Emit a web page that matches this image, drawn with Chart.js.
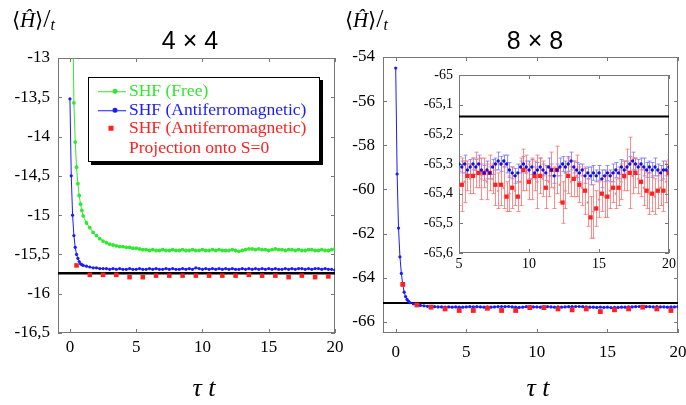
<!DOCTYPE html>
<html lang="en">
<head>
<meta charset="UTF-8">
<title>SHF energy vs imaginary time</title>
<script src="https://cdn.jsdelivr.net/npm/chart.js"></script>
<style>
  body { margin:0; width:686px; height:405px; overflow:hidden; background:#fff; position:relative; font-family:"Liberation Serif", serif; }
  canvas { position:absolute; }
  #c1 { left:0; top:0; }
  #c2 { left:336px; top:0; }
  #c3 { left:400px; top:60px; }
  .txt { position:absolute; white-space:nowrap; color:#000; line-height:1; }
  .title { font-family:"Liberation Sans", sans-serif; font-size:25px; transform:translate(-50%,-50%); }
  .xlab { font-family:"Liberation Serif", serif; font-size:26px; font-style:italic; transform:translate(-50%,-50%); }
  .ylab { font-size:21px; }
  .ylab .sl { font-size:26px; }
  .ylab .t { font-size:16px; font-style:italic; position:relative; top:3px; }
  #legend { position:absolute; left:88px; top:77px; width:232px; height:85px; box-sizing:border-box;
            border:1px solid #000; box-shadow:3px 3px 0 #000; background:#fff; font-size:17.5px; }
  .lrow { position:absolute; left:40px; transform:translateY(-50%); white-space:nowrap; line-height:1; }
  .lline { position:absolute; left:-31px; top:50%; width:28px; height:1px; }
  .ldot { position:absolute; left:-14px; top:50%; width:5px; height:5px; border-radius:50%; transform:translate(-50%,-50%); }
  .lsq { position:absolute; left:-18px; top:50%; width:5px; height:5px; transform:translate(-50%,-50%); }
</style>
</head>
<body>
  <canvas id="c1" width="350" height="405"></canvas>
  <canvas id="c2" width="360" height="405"></canvas>
  <canvas id="c3" width="280" height="220"></canvas>

  <div class="txt ylab" style="left:12px;top:6px">⟨<i>Ĥ</i>⟩<span class="sl">/</span><span class="t">t</span></div>
  <div class="txt ylab" style="left:345px;top:6px">⟨<i>Ĥ</i>⟩<span class="sl">/</span><span class="t">t</span></div>
  <div class="txt title" style="left:190px;top:40px">4 × 4</div>
  <div class="txt title" style="left:535px;top:40px">8 × 8</div>
  <div class="txt xlab" style="left:204px;top:388px">τ t</div>
  <div class="txt xlab" style="left:538px;top:388px">τ t</div>

  <div id="legend">
    <div class="lrow" style="top:13px;color:#30e830"><span class="lline" style="background:#30e830"></span><span class="ldot" style="background:#30e830"></span>SHF (Free)</div>
    <div class="lrow" style="top:32px;color:#1a1aff"><span class="lline" style="background:#1a1aff"></span><span class="ldot" style="background:#1a1aff"></span>SHF (Antiferromagnetic)</div>
    <div class="lrow" style="top:50px;color:#ff2020"><span class="lsq" style="background:#ff2020"></span>SHF (Antiferromagnetic)</div>
    <div class="lrow" style="top:70px;color:#ff2020">Projection onto S=0</div>
  </div>

<script>
// imaginary time grid (tau * t) used by the dense curves
const tau = [0,0.1,0.2,0.3,0.4,0.5,0.6,0.7,0.8,0.9,1,
  1.25,1.5,1.75,2, 2.25,2.5,2.75,3, 3.25,3.5,3.75,4, 4.25,4.5,4.75,5,
  5.25,5.5,5.75,6, 6.25,6.5,6.75,7, 7.25,7.5,7.75,8, 8.25,8.5,8.75,9,
  9.25,9.5,9.75,10, 10.25,10.5,10.75,11, 11.25,11.5,11.75,12, 12.25,12.5,12.75,13,
  13.25,13.5,13.75,14, 14.25,14.5,14.75,15, 15.25,15.5,15.75,16, 16.25,16.5,16.75,17,
  17.25,17.5,17.75,18, 18.25,18.5,18.75,19, 19.25,19.5,19.75,20];

// 4x4 lattice
const free4 = [null,null,-12.3,-13.57,-14.07,-14.39,-14.6,-14.75,-14.86,-14.94,-15.01,
  -15.1,-15.16,-15.22,-15.26, -15.3,-15.33,-15.35,-15.37, -15.38,-15.39,-15.4,-15.4,
  -15.41,-15.41,-15.42,-15.42, -15.43,-15.44,-15.44,-15.45, -15.44,-15.45,-15.45,-15.44,
  -15.45,-15.45,-15.44,-15.45, -15.45,-15.44,-15.45,-15.45, -15.44,-15.45,-15.45,-15.44,
  -15.45,-15.45,-15.44,-15.45, -15.44,-15.45,-15.45,-15.45, -15.44,-15.45,-15.46,-15.45,
  -15.44,-15.43,-15.43,-15.44, -15.43,-15.44,-15.44,-15.45, -15.44,-15.43,-15.44,-15.44,
  -15.45,-15.44,-15.44,-15.45, -15.44,-15.45,-15.45,-15.44, -15.44,-15.45,-15.45,-15.44,
  -15.45,-15.45,-15.44,-15.43];
const afm4 = [-13.52,-14.5,-15.0,-15.26,-15.41,-15.5,-15.55,-15.59,-15.62,-15.63,-15.64,
  -15.65,-15.66,-15.67,-15.67, -15.68,-15.68,-15.68,-15.69, -15.68,-15.69,-15.68,-15.69,
  -15.69,-15.68,-15.69,-15.69, -15.68,-15.69,-15.69,-15.68, -15.69,-15.68,-15.69,-15.69,
  -15.68,-15.69,-15.68,-15.69, -15.69,-15.68,-15.69,-15.68, -15.69,-15.67,-15.68,-15.69,
  -15.68,-15.69,-15.68,-15.69, -15.68,-15.69,-15.68,-15.69, -15.68,-15.69,-15.69,-15.68,
  -15.69,-15.68,-15.69,-15.68, -15.69,-15.68,-15.69,-15.68, -15.69,-15.68,-15.69,-15.69,
  -15.68,-15.69,-15.68,-15.69, -15.68,-15.68,-15.69,-15.68, -15.69,-15.68,-15.68,-15.69,
  -15.68,-15.69,-15.69,-15.7];
const halfTau = [0.5,1.5,2.5,3.5,4.5,5.5,6.5,7.5,8.5,9.5,10.5,11.5,12.5,13.5,14.5,15.5,16.5,17.5,18.5,19.5];
const proj4 = [-15.64,-15.76,-15.76,-15.76,-15.79,-15.79,-15.77,-15.77,-15.77,-15.77,
  -15.77,-15.77,-15.77,-15.76,-15.77,-15.77,-15.79,-15.77,-15.79,-15.78];
const exact4 = -15.74;

// 8x8 lattice
const afm8 = [-54.5,-59.3,-61.75,-63.05,-63.8,-64.3,-64.65,-64.85,-64.98,-65.06,-65.12,
  -65.18,-65.22,-65.25,-65.27, -65.29,-65.3,-65.31,-65.32, -65.32,-65.33,-65.32,-65.33,
  -65.32,-65.33,-65.33,-65.32, -65.31,-65.32,-65.31,-65.32, -65.33,-65.32,-65.33,-65.32,
  -65.31,-65.3,-65.31,-65.3, -65.32,-65.33,-65.34,-65.33, -65.31,-65.31,-65.32,-65.32,
  -65.33,-65.32,-65.31,-65.32, -65.33,-65.32,-65.33,-65.32, -65.31,-65.31,-65.3,-65.3,
  -65.31,-65.32,-65.33,-65.33, -65.34,-65.33,-65.34,-65.33, -65.35,-65.34,-65.34,-65.33,
  -65.33,-65.32,-65.32,-65.31, -65.3,-65.3,-65.31,-65.31, -65.32,-65.31,-65.32,-65.32,
  -65.33,-65.32,-65.32,-65.31];
const proj8 = [-64.3,-65.23,-65.33,-65.41,-65.48,-65.48,-65.38,-65.48,-65.48,-65.35,
  -65.35,-65.41,-65.45,-65.41,-65.53,-65.45,-65.41,-65.33,-65.41,-65.48];
const exact8 = -65.14;

// 8x8 inset (tau t from 5 to 20)
const insetTau = [5,5.2,5.4,5.6,5.8,6,6.2,6.4,6.6,6.8,7,7.2,7.4,7.6,7.8,8,8.2,8.4,8.6,8.8,
  9,9.2,9.4,9.6,9.8,10,10.2,10.4,10.6,10.8,11,11.2,11.4,11.6,11.8,12,12.2,12.4,12.6,12.8,
  13,13.2,13.4,13.6,13.8,14,14.2,14.4,14.6,14.8,15,15.2,15.4,15.6,15.8,16,16.2,16.4,16.6,16.8,
  17,17.2,17.4,17.6,17.8,18,18.2,18.4,18.6,18.8,19,19.2,19.4,19.6,19.8,20];
const insetAfm = [-65.30,-65.31,-65.30,-65.32,-65.31, -65.30,-65.31,-65.30,-65.32,-65.33,
  -65.32,-65.33,-65.31,-65.30,-65.29, -65.30,-65.29,-65.30,-65.32,-65.33,
  -65.34,-65.33,-65.31,-65.30,-65.31, -65.32,-65.31,-65.33,-65.32,-65.31,
  -65.32,-65.33,-65.31,-65.32,-65.34, -65.32,-65.31,-65.30,-65.31,-65.30,
  -65.29,-65.31,-65.32,-65.33,-65.32, -65.34,-65.33,-65.34,-65.33,-65.34,
  -65.33,-65.35,-65.34,-65.33,-65.34, -65.33,-65.32,-65.33,-65.31,-65.32,
  -65.31,-65.30,-65.29,-65.30,-65.31, -65.30,-65.31,-65.32,-65.31,-65.32,
  -65.31,-65.32,-65.33,-65.32,-65.32, -65.31];
const insetAfmErr = [0.025,0.02,0.03,0.02,0.025, 0.02,0.025,0.03,0.02,0.025, 0.03,0.02,0.025,0.02,0.03,
  0.025,0.02,0.03,0.025,0.02, 0.025,0.03,0.02,0.025,0.02, 0.03,0.025,0.02,0.025,0.03,
  0.02,0.025,0.03,0.02,0.025, 0.02,0.03,0.025,0.02,0.025, 0.03,0.02,0.025,0.03,0.02,
  0.025,0.02,0.03,0.025,0.02, 0.025,0.03,0.02,0.025,0.02, 0.03,0.025,0.02,0.025,0.03,
  0.02,0.025,0.03,0.02,0.025, 0.02,0.03,0.025,0.02,0.025, 0.03,0.02,0.025,0.03,0.02, 0.025];
const insetProjTau = [5.2,5.6,6,6.4,6.8,7.2,7.6,8,8.4,8.8,9.2,9.6,10,10.4,10.8,11.2,11.6,12,12.4,12.8,
  13.2,13.6,14,14.4,14.8,15.2,15.6,16,16.4,16.8,17.2,17.6,18,18.4,18.8,19.2,19.6,20];
const insetProj = [-65.37,-65.34,-65.34,-65.33,-65.33,-65.33,-65.37,-65.37,-65.41,-65.38,
  -65.41,-65.32,-65.36,-65.34,-65.34,-65.38,-65.32,-65.32,-65.43,-65.34,
  -65.35,-65.37,-65.39,-65.48,-65.45,-65.40,-65.41,-65.38,-65.38,-65.34,
  -65.33,-65.33,-65.36,-65.39,-65.40,-65.39,-65.39,-65.33];
const insetProjErr = [0.09,0.05,0.06,0.05,0.05,0.06,0.07,0.07,0.05,0.07,
  0.05,0.07,0.06,0.05,0.06,0.07,0.06,0.08,0.07,0.06,
  0.06,0.06,0.08,0.07,0.06,0.06,0.07,0.05,0.06,0.05,
  0.12,0.05,0.05,0.06,0.06,0.06,0.07,0.06];
const insetMidTau = [5,5.4,5.8,6.2,6.6,7,7.4,7.8,8.2,8.6,9,9.4,9.8,10.2,10.6,11,11.4,11.8,12.2,12.6,
  13,13.4,13.8,14.2,14.6,15,15.4,15.8,16.2,16.6,17,17.4,17.8,18.2,18.6,19,19.4,19.8];
const insetMid = [-65.38,-65.36,-65.35,-65.32,-65.35,-65.36,-65.35,-65.39,-65.38,-65.40,
  -65.39,-65.36,-65.33,-65.35,-65.36,-65.35,-65.36,-65.38,-65.37,-65.39,
  -65.36,-65.34,-65.38,-65.43,-65.46,-65.42,-65.41,-65.39,-65.40,-65.36,
  -65.32,-65.34,-65.35,-65.38,-65.40,-65.41,-65.38,-65.36];
const insetMidErr = [0.06,0.07,0.05,0.06,0.07,0.06,0.05,0.06,0.07,0.06,
  0.05,0.08,0.06,0.07,0.09,0.06,0.05,0.07,0.06,0.06,
  0.05,0.07,0.06,0.08,0.09,0.06,0.07,0.06,0.05,0.06,
  0.07,0.06,0.05,0.06,0.07,0.06,0.06,0.07];

// axis ranges and tick labels
const xRange = [-0.9, 20];
const xTicks = [0, 5, 10, 15, 20];
const yRange4 = [-16.5, -13];
const yTicks4 = [-13, -13.5, -14, -14.5, -15, -15.5, -16, -16.5];
const yRange8 = [-66.5, -54];
const yTicks8 = [-54, -56, -58, -60, -62, -64, -66];
const insetXRange = [5, 20];
const insetXTicks = [5, 10, 15, 20];
const insetYRange = [-65.6, -65];
const insetYTicks = [-65, -65.1, -65.2, -65.3, -65.4, -65.5, -65.6];

const GREEN = '#30e830', BLUE = '#1a1aff', RED = '#ff2020';

Chart.defaults.font.family = 'Liberation Serif, serif';
Chart.defaults.font.size = 17;

const xy = (xs, ys) => xs.map((x, i) => ({ x: x, y: ys[i] }));
const fmt = v => String(v).replace('.', ',');

// gray frame round the plot with small inward ticks on all four sides
const frameTicks = {
  id: 'frameTicks',
  beforeDatasetsDraw(chart, args, opts) {
    const { ctx, chartArea: a } = chart;
    const x = chart.scales.x, y = chart.scales.y;
    const len = opts.len || 4;
    ctx.save();
    ctx.strokeStyle = opts.color || '#777';
    ctx.lineWidth = 1;
    ctx.strokeRect(a.left + 0.5, a.top + 0.5, a.width - 1, a.height - 1);
    ctx.beginPath();
    x.ticks.forEach(t => {
      const px = Math.round(x.getPixelForValue(t.value)) + 0.5;
      ctx.moveTo(px, a.bottom); ctx.lineTo(px, a.bottom - len);
      ctx.moveTo(px, a.top); ctx.lineTo(px, a.top + len);
    });
    y.ticks.forEach(t => {
      const py = Math.round(y.getPixelForValue(t.value)) + 0.5;
      ctx.moveTo(a.left, py); ctx.lineTo(a.left + len, py);
      ctx.moveTo(a.right, py); ctx.lineTo(a.right - len, py);
    });
    ctx.stroke();
    ctx.restore();
  }
};

// vertical error bars with small caps, for datasets that carry an "errors" array
const errorBars = {
  id: 'errorBars',
  beforeDatasetsDraw(chart) {
    const { ctx, chartArea: a } = chart;
    chart.data.datasets.forEach((ds, i) => {
      if (!ds.errors) return;
      const meta = chart.getDatasetMeta(i);
      const ys = chart.scales[meta.yAxisID];
      ctx.save();
      ctx.beginPath();
      ctx.rect(a.left, a.top, a.width, a.height);
      ctx.clip();
      ctx.strokeStyle = ds.errorColor;
      ctx.lineWidth = 1;
      ctx.beginPath();
      meta.data.forEach((pt, j) => {
        const v = ds.data[j].y, e = ds.errors[j];
        const top = ys.getPixelForValue(v + e), bot = ys.getPixelForValue(v - e);
        const px = Math.round(pt.x) + 0.5;
        ctx.moveTo(px, top); ctx.lineTo(px, bot);
        ctx.moveTo(px - 2, top); ctx.lineTo(px + 2, top);
        ctx.moveTo(px - 2, bot); ctx.lineTo(px + 2, bot);
      });
      ctx.stroke();
      ctx.restore();
    });
  }
};

function panelOptions(o) {
  return {
    responsive: false,
    animation: false,
    layout: { padding: o.pad },
    plugins: { legend: { display: false }, tooltip: { enabled: false }, frameTicks: { len: 4, color: '#777' } },
    scales: {
      x: {
        type: 'linear', min: o.xr[0], max: o.xr[1],
        afterBuildTicks: s => { s.ticks = o.xt.map(v => ({ value: v })); },
        afterFit: s => { s.height = o.xh; },
        grid: { display: false, drawTicks: false },
        border: { display: false },
        ticks: { font: { family: 'Liberation Serif, serif', size: o.fs }, color: '#000', padding: o.xpad,
                 maxRotation: 0, autoSkip: false, callback: fmt }
      },
      y: {
        type: 'linear', min: o.yr[0], max: o.yr[1],
        afterBuildTicks: s => { s.ticks = o.yt.map(v => ({ value: v })); },
        afterFit: s => { s.width = o.yw; },
        grid: { display: false, drawTicks: false },
        border: { display: false },
        ticks: { font: { family: 'Liberation Serif, serif', size: o.fs }, color: '#000', padding: o.ypad,
                 autoSkip: false, callback: fmt }
      }
    }
  };
}

function refLine(xr, value, width) {
  return { data: [{ x: xr[0], y: value }, { x: xr[1], y: value }], borderColor: '#000',
           borderWidth: width, pointRadius: 0, showLine: true };
}

const charts = [];

// 4x4 panel
charts.push(new Chart(document.getElementById('c1'), {
  type: 'scatter',
  data: {
    datasets: [
      { data: xy(halfTau, proj4), pointStyle: 'rect', pointRadius: 3.2, backgroundColor: RED, borderWidth: 0 },
      { data: xy(tau, afm4), showLine: true, borderColor: BLUE, borderWidth: 1, pointRadius: 1.6,
        backgroundColor: BLUE, pointBorderWidth: 0 },
      { data: xy(tau, free4), showLine: true, borderColor: GREEN, borderWidth: 1, pointRadius: 1.9,
        backgroundColor: GREEN, pointBorderWidth: 0 },
      refLine(xRange, exact4, 2.5)
    ]
  },
  options: panelOptions({ pad: { top: 58, right: 15 }, xr: xRange, xt: xTicks,
    yr: yRange4, yt: yTicks4, xh: 72, yw: 58, fs: 17, xpad: 4, ypad: 8 }),
  plugins: [frameTicks]
}));

// 8x8 panel
charts.push(new Chart(document.getElementById('c2'), {
  type: 'scatter',
  data: {
    datasets: [
      { data: xy(halfTau, proj8), pointStyle: 'rect', pointRadius: 3.4, backgroundColor: RED, borderWidth: 0 },
      { data: xy(tau, afm8), showLine: true, borderColor: BLUE, borderWidth: 1, pointRadius: 1.6,
        backgroundColor: BLUE, pointBorderWidth: 0 },
      refLine(xRange, exact8, 2)
    ]
  },
  options: panelOptions({ pad: { top: 57, right: 18 }, xr: xRange, xt: xTicks,
    yr: yRange8, yt: yTicks8, xh: 72, yw: 47, fs: 17, xpad: 9, ypad: 8 }),
  plugins: [frameTicks]
}));

// 8x8 inset, with error bars
charts.push(new Chart(document.getElementById('c3'), {
  type: 'scatter',
  data: {
    datasets: [
      { data: xy(insetTau, insetAfm), errors: insetAfmErr, errorColor: 'rgba(110,110,255,0.75)',
        pointRadius: 1.7, backgroundColor: '#1010e0', pointBorderWidth: 0 },
      { data: xy(insetProjTau, insetProj), errors: insetProjErr, errorColor: 'rgba(255,110,110,0.8)',
        pointStyle: 'rect', pointRadius: 3, backgroundColor: RED, borderWidth: 0 },
      { data: xy(insetMidTau, insetMid), errors: insetMidErr, errorColor: 'rgba(255,110,110,0.8)',
        pointRadius: 1.2, backgroundColor: '#ff8080', pointBorderWidth: 0 },
      refLine(insetXRange, exact8, 2)
    ]
  },
  options: panelOptions({ pad: { top: 15, right: 11 }, xr: insetXRange, xt: insetXTicks,
    yr: insetYRange, yt: insetYTicks, xh: 27, yw: 59, fs: 14, xpad: 3, ypad: 6 }),
  plugins: [errorBars, frameTicks]
}));

// redraw once the serif face is surely available to the canvases
document.fonts.ready.then(() => charts.forEach(c => c.update('none')));
</script>
</body>
</html>
